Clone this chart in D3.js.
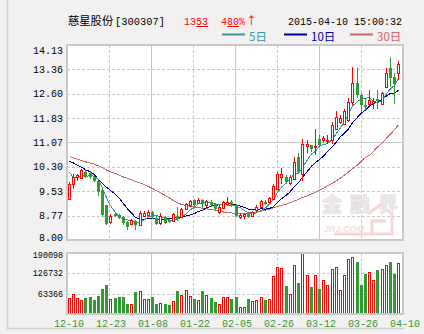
<!DOCTYPE html>
<html>
<head>
<meta charset="utf-8">
<script src="https://cdn.jsdelivr.net/npm/d3@7/dist/d3.min.js"></script>
<style>
  html, body { margin: 0; padding: 0; background: #f2f0f1; }
  svg { display: block; }
</style>
</head>
<body>
<svg id="chart" width="424" height="334"></svg>
<script>
// Daily K-line of 慈星股份 (300307), 2014-12-10 .. 2015-04-10
const tickLabels = ["12-10", "12-23", "01-08", "01-22", "02-05", "02-26", "03-12", "03-26", "04-10"];
const priceTicks = [14.13, 13.36, 12.60, 11.83, 11.07, 10.30, 9.53, 8.77, 8.00];
const volumeTicks = [190098, 126732, 63366];

const open = [9.30, 9.77, 9.98, 9.95, 10.14, 10.11, 9.98, 9.87, 9.56, 9.09,
  8.56, 8.82, 8.79, 8.72, 8.56, 8.51, 8.61, 8.46, 8.77, 8.80,
  8.88, 8.70, 8.53, 8.72, 8.63, 8.59, 8.77, 8.72, 8.98, 9.09,
  9.26, 9.16, 9.26, 9.09, 9.21, 9.14, 8.88, 9.00, 9.14, 9.21,
  9.09, 8.72, 8.74, 8.82, 8.77, 8.93, 9.03, 9.21, 9.19, 9.30,
  9.61, 9.98, 9.98, 9.79, 9.93, 10.61, 10.09, 10.97, 10.98, 10.91,
  11.19, 11.14, 11.10, 11.14, 11.50, 11.71, 11.66, 11.77, 12.34, 12.95,
  12.55, 12.24, 12.26, 12.31, 12.42, 12.29, 12.80, 13.40, 13.13, 13.24];
const high = [9.82, 10.09, 10.09, 10.24, 10.24, 10.16, 10.01, 9.93, 9.61, 9.09,
  8.82, 8.85, 8.82, 8.77, 8.59, 8.66, 8.63, 8.90, 8.92, 8.94,
  8.92, 8.74, 8.84, 8.77, 8.66, 8.86, 9.05, 9.00, 9.16, 9.27,
  9.29, 9.32, 9.29, 9.27, 9.26, 9.16, 9.09, 9.24, 9.35, 9.26,
  9.14, 8.85, 8.84, 8.86, 8.92, 9.09, 9.26, 9.27, 9.35, 9.77,
  10.14, 10.27, 10.03, 10.03, 10.61, 10.72, 11.16, 11.13, 10.98, 11.50,
  11.29, 11.26, 11.29, 11.72, 12.05, 11.92, 12.11, 12.45, 13.45, 13.40,
  12.61, 12.45, 12.71, 12.45, 12.71, 12.66, 13.40, 13.76, 13.24, 13.62];
const low = [9.30, 9.61, 9.87, 9.93, 9.95, 9.92, 9.82, 9.38, 8.72, 8.46,
  8.51, 8.72, 8.66, 8.46, 8.30, 8.46, 8.30, 8.43, 8.72, 8.72,
  8.66, 8.46, 8.46, 8.51, 8.53, 8.56, 8.61, 8.70, 8.96, 9.05,
  9.05, 9.14, 9.01, 9.05, 9.05, 8.95, 8.82, 8.98, 9.11, 9.03,
  8.72, 8.66, 8.66, 8.70, 8.74, 8.88, 9.00, 9.09, 9.16, 9.27,
  9.56, 9.77, 9.77, 9.74, 9.90, 10.09, 9.87, 10.72, 10.76, 10.66,
  10.95, 11.05, 11.03, 11.03, 11.46, 11.66, 11.61, 11.72, 12.24, 12.45,
  12.03, 12.08, 12.21, 12.11, 12.13, 12.24, 12.78, 12.82, 12.29, 13.03];
const close = [9.77, 9.98, 10.03, 10.19, 9.98, 9.98, 9.84, 9.50, 8.80, 8.51,
  8.77, 8.77, 8.70, 8.53, 8.40, 8.63, 8.46, 8.86, 8.84, 8.88,
  8.72, 8.51, 8.74, 8.53, 8.56, 8.82, 8.66, 8.98, 9.14, 9.22,
  9.09, 9.27, 9.14, 9.24, 9.09, 8.98, 9.03, 9.21, 9.19, 9.09,
  8.77, 8.80, 8.82, 8.72, 8.88, 9.05, 9.24, 9.14, 9.32, 9.71,
  10.09, 10.06, 9.82, 9.98, 10.45, 10.14, 11.03, 11.03, 10.87, 10.95,
  10.98, 11.22, 11.14, 11.61, 11.87, 11.82, 12.05, 12.34, 12.95, 12.55,
  12.24, 12.19, 12.39, 12.36, 12.37, 12.63, 13.26, 13.08, 12.91, 13.53];
const volume = [50700, 61300, 48600, 44400, 49600, 51700, 42200, 54900, 77100, 89800,
  47500, 48600, 51700, 51700, 32700, 31700, 67600, 72900, 47500, 47500,
  51700, 32700, 34800, 32700, 29600, 41200, 70800, 60200, 76000, 57000,
  45400, 44400, 70800, 60200, 48600, 35900, 31700, 53900, 53900, 45400,
  51700, 22200, 22200, 45400, 39100, 44400, 53900, 42200, 47500, 117200,
  145700, 142600, 86600, 61300, 152100, 96100, 190098, 120400, 83400, 120400,
  77100, 104500, 91900, 139400, 145700, 76000, 120400, 171100, 177400, 161600,
  89800, 124600, 129900, 104500, 136200, 139400, 152100, 161600, 124600, 158400];
const ma5 = [10.14, 9.95, 9.97, 10.04, 9.99, 10.03, 10.00, 9.90, 9.62, 9.33,
  9.08, 8.87, 8.71, 8.66, 8.63, 8.61, 8.54, 8.58, 8.64, 8.73,
  8.75, 8.76, 8.74, 8.68, 8.61, 8.63, 8.66, 8.71, 8.83, 8.96,
  9.02, 9.14, 9.17, 9.19, 9.17, 9.14, 9.10, 9.11, 9.10, 9.10,
  9.06, 9.01, 8.93, 8.84, 8.80, 8.85, 8.94, 9.01, 9.13, 9.29,
  9.50, 9.66, 9.80, 9.93, 10.08, 10.09, 10.28, 10.52, 10.70, 10.79,
  10.96, 11.00, 11.03, 11.17, 11.36, 11.53, 11.71, 11.95, 12.21, 12.35,
  12.44, 12.46, 12.47, 12.36, 12.32, 12.39, 12.60, 12.75, 12.86, 13.09];
const ma10 = [10.48, 10.42, 10.35, 10.29, 10.21, 10.14, 10.05, 9.90, 9.78, 9.66,
  9.56, 9.44, 9.31, 9.14, 8.98, 8.85, 8.71, 8.65, 8.65, 8.68,
  8.68, 8.65, 8.66, 8.66, 8.67, 8.69, 8.71, 8.73, 8.76, 8.79,
  8.83, 8.90, 8.94, 9.01, 9.07, 9.08, 9.12, 9.14, 9.15, 9.14,
  9.10, 9.06, 9.02, 8.97, 8.95, 8.96, 8.98, 8.97, 8.99, 9.05,
  9.18, 9.30, 9.41, 9.53, 9.69, 9.80, 9.97, 10.16, 10.32, 10.44,
  10.53, 10.64, 10.78, 10.94, 11.08, 11.25, 11.36, 11.49, 11.69, 11.86,
  11.99, 12.09, 12.21, 12.29, 12.34, 12.42, 12.53, 12.61, 12.61, 12.71];
const ma30 = [10.62, 10.58, 10.54, 10.50, 10.46, 10.42, 10.38, 10.33, 10.27, 10.20,
  10.14, 10.09, 10.04, 9.98, 9.94, 9.89, 9.84, 9.79, 9.74, 9.68,
  9.62, 9.55, 9.48, 9.40, 9.32, 9.24, 9.17, 9.12, 9.08, 9.06,
  9.04, 9.02, 9.00, 8.98, 8.96, 8.93, 8.90, 8.88, 8.86, 8.85,
  8.84, 8.84, 8.84, 8.85, 8.86, 8.88, 8.91, 8.94, 8.97, 9.01,
  9.05, 9.09, 9.13, 9.18, 9.23, 9.28, 9.34, 9.39, 9.45, 9.50,
  9.56, 9.63, 9.70, 9.78, 9.86, 9.95, 10.04, 10.14, 10.24, 10.36,
  10.48, 10.60, 10.66, 10.79, 10.92, 11.06, 11.20, 11.33, 11.47, 11.62];

const UP = "#ff0000", DOWN = "#339933";
const GRID = "#c8c8c8";
const MONO = "'Liberation Mono', 'DejaVu Sans Mono', monospace";
const CJK = "'Noto Sans CJK SC', sans-serif";

const svg = d3.select("#chart");

// panel geometry
const L = 67, R = 403, T = 45, B = 240, VT = 253, VB = 314;

const x = d3.scaleBand().domain(d3.range(close.length)).range([66.6, 400.4]);
const cx = i => Math.round(x(i) + x.bandwidth() / 2);
const gx = d3.scaleLinear().domain([0, tickLabels.length - 1]).range([L, R]);
const y = d3.scaleLinear().domain([priceTicks[priceTicks.length - 1], priceTicks[0]]).range([B, T]);
const vy = d3.scaleLinear().domain([0, volumeTicks[0]]).range([VB, VT]);

// outer frame
svg.append("line").attr("x1", 7.5).attr("x2", 7.5).attr("y1", 0).attr("y2", 329)
  .attr("stroke", "#cfcfcf").attr("stroke-width", 1.5);
svg.append("line").attr("x1", 7).attr("x2", 404).attr("y1", 328.5).attr("y2", 328.5)
  .attr("stroke", "#cfcfcf").attr("stroke-width", 1.5);

// panel backgrounds
svg.append("rect").attr("x", L).attr("y", T).attr("width", R - L).attr("height", B - T).attr("fill", "#fff");
svg.append("rect").attr("x", L).attr("y", VT).attr("width", R - L).attr("height", VB - VT).attr("fill", "#fff");

const grid = svg.append("g").attr("shape-rendering", "crispEdges");

// horizontal grid, price panel
priceTicks.slice(1, -1).forEach((v, k) => {
  const yy = Math.round(y(v)) + 0.5;
  grid.append("line").attr("x1", L).attr("x2", R).attr("y1", yy).attr("y2", yy)
    .attr("stroke", GRID).attr("stroke-width", 1)
    .attr("stroke-dasharray", k === 3 ? null : "3,2");
});
// horizontal grid, volume panel
volumeTicks.slice(1).forEach(v => {
  const yy = Math.round(vy(v)) + 0.5;
  grid.append("line").attr("x1", L).attr("x2", R).attr("y1", yy).attr("y2", yy)
    .attr("stroke", GRID).attr("stroke-dasharray", "3,2");
});
// vertical grid in both panels
d3.range(1, tickLabels.length - 1).forEach(k => {
  const xx = Math.round(gx(k)) + 0.5;
  [[T, B], [VT, VB]].forEach(([a, b]) => {
    grid.append("line").attr("x1", xx).attr("x2", xx).attr("y1", a).attr("y2", b)
      .attr("stroke", GRID).attr("stroke-dasharray", k % 2 === 0 ? null : "3,2");
  });
});

// watermark
const wm = svg.append("g");
wm.append("path")
  .attr("d", "M334,234 L392,234 L392,214 L380,205 L368,214 M372,234 L372,221 L386,221")
  .attr("fill", "none").attr("stroke", "#f6d6d6").attr("stroke-width", 3);
wm.append("text").attr("x", 322).attr("y", 212)
  .attr("font-family", CJK).attr("font-size", 20).attr("font-weight", "bold")
  .attr("fill", "#f1eeee").attr("stroke", "#e2dcdc").attr("stroke-width", 0.8)
  .attr("textLength", 76).text("金融界");
wm.append("text").attr("x", 324).attr("y", 232)
  .attr("font-family", "'Liberation Sans', sans-serif").attr("font-size", 9)
  .attr("font-weight", "bold").attr("font-style", "italic")
  .attr("fill", "#eee2e2").text("JRJ.COM");

// moving averages
const maLine = arr => d3.line().x((d, i) => cx(i) + 0.5).y(d => y(d))(arr);
const lines = svg.append("g").attr("fill", "none").attr("stroke-width", 1)
  .attr("shape-rendering", "crispEdges");
lines.append("path").attr("d", maLine(ma30)).attr("stroke", "#cc6666");
lines.append("path").attr("d", maLine(ma10)).attr("stroke", "#000099");
lines.append("path").attr("d", maLine(ma5)).attr("stroke", "#339999");

// candles
const candles = svg.append("g").attr("shape-rendering", "crispEdges");
close.forEach((c, i) => {
  const o = open[i], up = c >= o;
  const px = cx(i);
  const yo = Math.round(y(o)), yc = Math.round(y(c));
  const yh = Math.round(y(high[i])), yl = Math.round(y(low[i]));
  if (up) {
    const top = Math.min(yo, yc), bot = Math.max(yo, yc, top + 1);
    candles.append("line").attr("x1", px + 0.5).attr("x2", px + 0.5).attr("y1", yh).attr("y2", top)
      .attr("stroke", UP);
    candles.append("line").attr("x1", px + 0.5).attr("x2", px + 0.5).attr("y1", bot).attr("y2", yl)
      .attr("stroke", UP);
    candles.append("rect").attr("x", px - 0.5).attr("y", top + 0.5)
      .attr("width", 2).attr("height", bot - top)
      .attr("fill", "#fff").attr("stroke", UP);
  } else {
    candles.append("line").attr("x1", px + 0.5).attr("x2", px + 0.5).attr("y1", yh).attr("y2", yl)
      .attr("stroke", DOWN);
    candles.append("rect").attr("x", px - 1).attr("y", yo)
      .attr("width", 3).attr("height", Math.max(1, yc - yo))
      .attr("fill", DOWN);
  }
});

// volume bars
const vols = svg.append("g").attr("shape-rendering", "crispEdges");
volume.forEach((v, i) => {
  const up = close[i] >= open[i];
  const px = cx(i);
  const top = Math.round(vy(v));
  if (up) {
    vols.append("rect").attr("x", px - 0.5).attr("y", top + 0.5)
      .attr("width", 2).attr("height", VB - top - 1)
      .attr("fill", "#fff").attr("stroke", UP);
  } else {
    vols.append("rect").attr("x", px - 1).attr("y", top)
      .attr("width", 3).attr("height", VB - top).attr("fill", DOWN);
  }
});

// panel borders
const frame = svg.append("g").attr("fill", "none").attr("stroke", GRID).attr("stroke-width", 2)
  .attr("shape-rendering", "crispEdges");
frame.append("rect").attr("x", L).attr("y", T).attr("width", R - L).attr("height", B - T);
frame.append("rect").attr("x", L).attr("y", VT).attr("width", R - L).attr("height", VB - VT);

// price axis labels
svg.append("g").selectAll("text").data(priceTicks).join("text")
  .attr("x", 63).attr("y", d => y(d))
  .attr("dy", (d, k) => k === 0 ? "0.85em" : (k === priceTicks.length - 1 ? "0.05em" : "0.36em"))
  .attr("text-anchor", "end").attr("font-family", MONO).attr("font-size", 10)
  .attr("fill", "#000").text(d => d.toFixed(2));

// volume axis labels
svg.append("g").selectAll("text").data(volumeTicks).join("text")
  .attr("x", 63).attr("y", d => vy(d))
  .attr("dy", (d, k) => k === 0 ? "0.55em" : "0.36em")
  .attr("text-anchor", "end").attr("font-family", MONO).attr("font-size", 8.4)
  .attr("fill", "#000").text(d => d);

// date labels
svg.append("g").selectAll("text").data(tickLabels).join("text")
  .attr("x", (d, k) => gx(k) + 2).attr("y", 327)
  .attr("text-anchor", "middle").attr("font-family", MONO).attr("font-size", 10)
  .attr("fill", "#339933").text(d => d);

// header: name, code, price, change, timestamp
svg.append("text").attr("x", 68).attr("y", 25)
  .attr("font-family", CJK).attr("font-size", 11.3).attr("fill", "#000").text("慈星股份");
svg.append("text").attr("x", 115).attr("y", 25)
  .attr("font-family", MONO).attr("font-size", 10.4).attr("fill", "#000").text("[300307]");

const price = svg.append("text").attr("x", 184).attr("y", 25)
  .attr("font-family", MONO).attr("font-size", 10).attr("fill", UP);
price.append("tspan").text("13");
price.append("tspan").attr("text-decoration", "underline").text("53");

const chg = svg.append("text").attr("x", 221).attr("y", 25)
  .attr("font-family", MONO).attr("font-size", 10).attr("fill", UP);
chg.append("tspan").text("4");
chg.append("tspan").attr("text-decoration", "underline").text("80");
chg.append("tspan").text("%");
chg.append("tspan").attr("font-family", CJK).attr("font-size", 11).attr("dx", 1).text("↑");

svg.append("text").attr("x", 402).attr("y", 25).attr("text-anchor", "end")
  .attr("font-family", MONO).attr("font-size", 10).attr("fill", "#000")
  .text("2015-04-10 15:00:32");

// legend
const legend = [
  { label: "5日", color: "#339999", x0: 222 },
  { label: "10日", color: "#000099", x0: 284 },
  { label: "30日", color: "#cc6666", x0: 350 }
];
legend.forEach(d => {
  svg.append("line").attr("x1", d.x0).attr("x2", d.x0 + 23).attr("y1", 34.5).attr("y2", 34.5)
    .attr("stroke", d.color).attr("stroke-width", 2);
  svg.append("text").attr("x", d.x0 + 27).attr("y", 40.5)
    .attr("font-family", CJK).attr("font-size", 11.5).attr("fill", d.color).text(d.label);
});
</script>
</body>
</html>
